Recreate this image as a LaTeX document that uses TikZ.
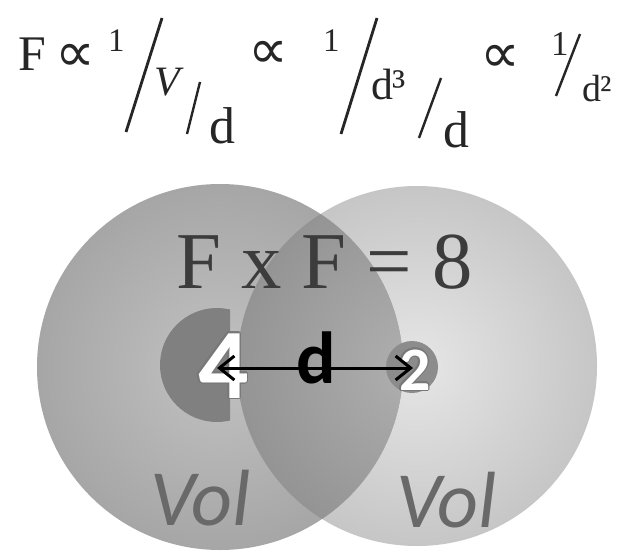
\documentclass[tikz,border=0pt]{standalone}
\usepackage{fontspec}
\setmainfont{Liberation Serif}
\newfontfamily\calib{Carlito}
\newfontfamily\dejavu{DejaVu Sans}
\usepackage[copies]{contour}
\contourlength{1.3pt}
\usetikzlibrary{arrows.meta}
\definecolor{leftin}{RGB}{194,194,194}
\definecolor{leftout}{RGB}{166,166,166}
\definecolor{rightin}{RGB}{230,230,230}
\definecolor{rightout}{RGB}{198,198,198}
\definecolor{lensin}{RGB}{176,176,176}
\definecolor{lensout}{RGB}{148,148,148}
\definecolor{darkdisc}{RGB}{128,128,128}
\definecolor{smalldisc}{RGB}{140,140,140}
\definecolor{textdark}{RGB}{60,60,60}
\definecolor{volgray}{RGB}{105,105,105}
\definecolor{outl}{RGB}{120,120,120}
\tikzset{
  lbl/.style={inner sep=0pt, outer sep=0pt, anchor=base west},
  slashbig/.style={line width=2.8bp, black!85},
  slashsmall/.style={line width=2.4bp, black!85},
  voltext/.style={lbl, font=\calib\itshape\fontsize{80}{80}\selectfont, text=volgray},
  propto/.style={inner sep=0pt, outer sep=0pt, font=\dejavu\fontsize{56}{56}\selectfont, text=black!85},
  barb/.tip={Straight Barb[length=15bp,width=24bp,line width=3bp]},
}
\begin{document}
\begin{tikzpicture}[x=1bp,y=-1bp]
\useasboundingbox (0,0) rectangle (629,553);
\fill[white] (0,0) rectangle (629,553);
% circles
\coordinate (L) at (220,367);
\coordinate (R) at (417,366);
\shade[inner color=rightin, outer color=rightout] (R) circle[radius=180bp];
\shade[inner color=leftin, outer color=leftout] (L) circle[radius=183bp];
\begin{scope}
  \clip (L) circle[radius=183bp];
  \shade[inner color=lensin, outer color=lensout] (R) circle[radius=180bp];
\end{scope}
% dark disc (left half)
\begin{scope}
  \clip (100,250) rectangle (230,480);
  \fill[darkdisc] (217,365) circle[radius=57bp];
\end{scope}
\fill[smalldisc] (412,367) circle[radius=26bp];
% top formula
\node[lbl, font=\fontsize{50}{50}\selectfont, text=black!85] (F1) at (18,71) {F};
\node[propto] (p1) at (75,58) {∝};
\node[lbl, font=\fontsize{33}{33}\selectfont, text=black!85] (one1) at (108,52) {1};
\draw[slashbig] (162,18) -- (126,132);
\node[lbl, font=\itshape\fontsize{42}{42}\selectfont, text=black!85] (V) at (154,96) {V};
\draw[slashsmall] (200,82) -- (187,134);
\node[lbl, font=\fontsize{52}{52}\selectfont, text=black!85] (d1) at (209,144) {d};
\node[propto] (p2) at (268,55) {∝};
\node[lbl, font=\fontsize{33}{33}\selectfont, text=black!85] (one2) at (323,52) {1};
\draw[slashbig] (377,18) -- (341,134);
\node[lbl, font=\fontsize{44}{44}\selectfont, text=black!85] (d3) at (371,100) {d³};
\draw[slashsmall] (441,78) -- (419,138);
\node[lbl, font=\fontsize{52}{52}\selectfont, text=black!85] (d2) at (443,148) {d};
\node[propto] (p3) at (500,59) {∝};
\node[lbl, font=\fontsize{35}{35}\selectfont, text=black!85] (one3) at (551,56) {1};
\draw[slashsmall] (580,34) -- (556,96);
\node[lbl, font=\fontsize{38}{38}\selectfont, text=black!85] (dsq) at (582,102) {d²};
% F x F = 8
\node[lbl, font=\fontsize{81}{81}\selectfont, text=textdark] (FF) at (176,288) {F x F = 8};
% 4, d, 2
\node[lbl, font=\calib\bfseries\fontsize{100}{100}\selectfont] (four) at (198,398) {\contour{outl}{\textcolor{white}{4}}};
\node[lbl, font=\calib\bfseries\fontsize{62}{62}\selectfont] (two) at (399,390) {\contour{outl}{\textcolor{white}{2}}};
\coordinate (ptA) at (217,368);
\coordinate (ptB) at (413,368);
\draw[line width=3bp, black, barb-barb] (ptA) -- (ptB);
\node[lbl, font=\calib\bfseries\fontsize{74}{74}\selectfont, text=black] (dd) at (296,383) {d};
% Vol labels
\node[voltext] (vol1) at (150,525) {Vol};
\node[voltext] (vol2) at (396,527) {Vol};
\end{tikzpicture}
\end{document}
